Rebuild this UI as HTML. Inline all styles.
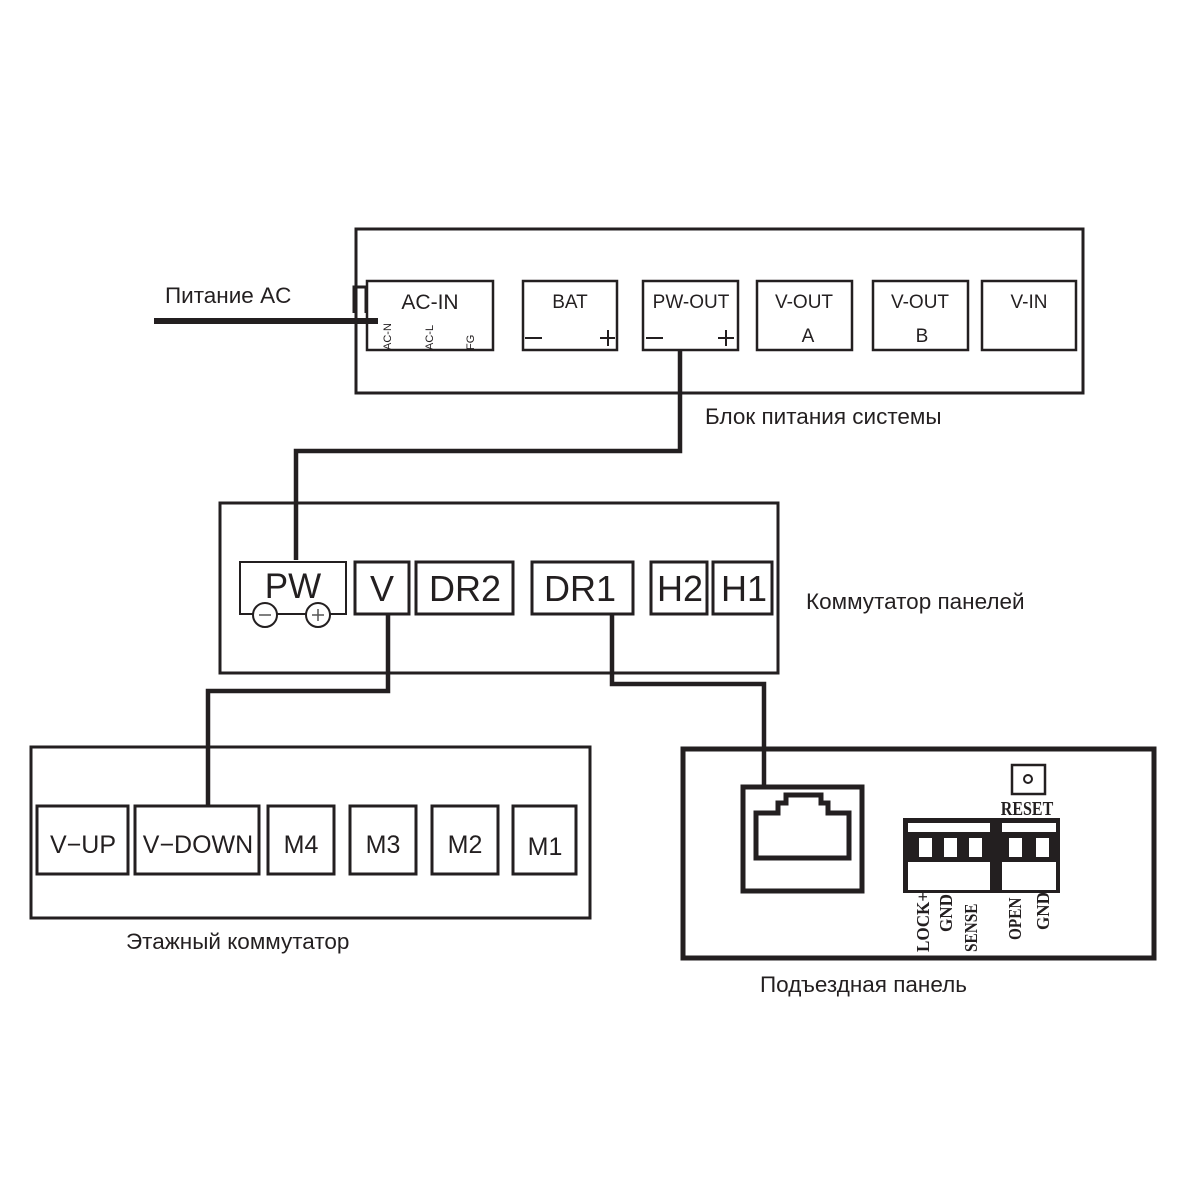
<!DOCTYPE html>
<html><head><meta charset="utf-8"><style>
html,body{margin:0;padding:0;background:#fff}
svg{display:block}
text{font-family:"Liberation Sans",sans-serif;fill:#231f20}
.s{font-family:"Liberation Serif",serif;font-weight:bold}
</style></head><body>
<svg width="1200" height="1200" viewBox="0 0 1200 1200" xmlns="http://www.w3.org/2000/svg">
<g fill="none" stroke="#231f20">
<rect x="356" y="229" width="727" height="164" stroke-width="3"/>
<rect x="367" y="281" width="126" height="69" stroke-width="2.5"/>
<rect x="523" y="281" width="94" height="69" stroke-width="2.5"/>
<rect x="643" y="281" width="95" height="69" stroke-width="2.5"/>
<rect x="757" y="281" width="95" height="69" stroke-width="2.5"/>
<rect x="873" y="281" width="95" height="69" stroke-width="2.5"/>
<rect x="982" y="281" width="94" height="69" stroke-width="2.5"/>
<path d="M525 338h17M600 338h15M608 330v16M646 338h17M718 338h16M726 330v16" stroke-width="2"/>
<path d="M154 321H378" stroke-width="6"/>
<path d="M366 313V287h-12v26" stroke-width="3"/>
<path d="M680 350V451H296V560" stroke-width="4.5"/>
<rect x="220" y="503" width="558" height="170" stroke-width="3"/>
<rect x="240" y="562" width="106" height="52" stroke-width="2"/>
<rect x="355" y="562" width="54" height="52" stroke-width="3"/>
<rect x="416" y="562" width="97" height="52" stroke-width="3"/>
<rect x="532" y="562" width="101" height="52" stroke-width="3"/>
<rect x="651" y="562" width="56" height="52" stroke-width="3"/>
<rect x="713" y="562" width="59" height="52" stroke-width="3"/>
<circle cx="265" cy="615" r="12" fill="#fff" stroke-width="2"/>
<circle cx="318" cy="615" r="12" fill="#fff" stroke-width="2"/>
<path d="M259 615h12M312 615h12M318 609v12" stroke-width="1.5" stroke="#555"/>
<path d="M388 614V691H208V805" stroke-width="4.5"/>
<path d="M612 614V684H764V786" stroke-width="4.5"/>
<rect x="31" y="747" width="559" height="171" stroke-width="3"/>
<rect x="37" y="806" width="91" height="68" stroke-width="3"/>
<rect x="135" y="806" width="124" height="68" stroke-width="3"/>
<rect x="268" y="806" width="66" height="68" stroke-width="3"/>
<rect x="350" y="806" width="66" height="68" stroke-width="3"/>
<rect x="432" y="806" width="66" height="68" stroke-width="3"/>
<rect x="513" y="806" width="63" height="68" stroke-width="3"/>
<rect x="683" y="749" width="471" height="209" stroke-width="5"/>
<rect x="743" y="787" width="119" height="104" stroke-width="5"/>
<path d="M756 858V813H778V803H786V795H821V803H828V813H849V858Z" stroke-width="5"/>
<rect x="1012" y="765" width="33" height="29" stroke-width="2.5"/>
<circle cx="1028" cy="779" r="4" stroke-width="2"/>
</g>
<g fill="#231f20">
<rect x="903" y="818" width="157" height="75"/>
<rect x="908" y="823" width="82" height="9" fill="#fff"/>
<rect x="1002" y="823" width="54" height="9" fill="#fff"/>
<rect x="908" y="862" width="82" height="28" fill="#fff"/>
<rect x="1002" y="862" width="54" height="28" fill="#fff"/>
<rect x="919" y="838" width="13" height="19" fill="#fff"/>
<rect x="944" y="838" width="13" height="19" fill="#fff"/>
<rect x="969" y="838" width="13" height="19" fill="#fff"/>
<rect x="1009" y="838" width="13" height="19" fill="#fff"/>
<rect x="1036" y="838" width="13" height="19" fill="#fff"/>
</g>
<text x="165" y="303" font-size="22.5">Питание AC</text>
<text x="430" y="309" font-size="21" text-anchor="middle">AC-IN</text>
<text font-size="11" transform="translate(391,350) rotate(-90)">AC-N</text>
<text font-size="11" transform="translate(433,350) rotate(-90)">AC-L</text>
<text font-size="11" transform="translate(474,350) rotate(-90)">FG</text>
<text x="570" y="308" font-size="19" text-anchor="middle">BAT</text>
<text x="691" y="308" font-size="19" text-anchor="middle">PW-OUT</text>
<text x="804" y="308" font-size="19" text-anchor="middle">V-OUT</text>
<text x="808" y="342" font-size="19" text-anchor="middle">A</text>
<text x="920" y="308" font-size="19" text-anchor="middle">V-OUT</text>
<text x="922" y="342" font-size="19" text-anchor="middle">B</text>
<text x="1029" y="308" font-size="19" text-anchor="middle">V-IN</text>
<text x="705" y="424" font-size="22.5">Блок питания системы</text>
<text x="293" y="598" font-size="35" text-anchor="middle">PW</text>
<text x="382" y="601" font-size="36" text-anchor="middle">V</text>
<text x="465" y="601" font-size="36" text-anchor="middle">DR2</text>
<text x="580" y="601" font-size="36" text-anchor="middle">DR1</text>
<text x="680" y="601" font-size="36" text-anchor="middle">H2</text>
<text x="744" y="601" font-size="36" text-anchor="middle">H1</text>
<text x="806" y="609" font-size="22.5">Коммутатор панелей</text>
<text x="83" y="853" font-size="25" text-anchor="middle">V−UP</text>
<text x="198" y="853" font-size="25" text-anchor="middle">V−DOWN</text>
<text x="301" y="853" font-size="25" text-anchor="middle">M4</text>
<text x="383" y="853" font-size="25" text-anchor="middle">M3</text>
<text x="465" y="853" font-size="25" text-anchor="middle">M2</text>
<text x="545" y="855" font-size="25" text-anchor="middle">M1</text>
<text x="126" y="949" font-size="22.5">Этажный коммутатор</text>
<text font-size="20" class="s" text-anchor="middle" transform="translate(1027,815) scale(0.8,1)">RESET</text>
<text font-size="18" class="s" transform="translate(929,952) rotate(-90) scale(0.95,1)">LOCK+</text>
<text font-size="18" class="s" transform="translate(952,932) rotate(-90) scale(0.95,1)">GND</text>
<text font-size="18" class="s" transform="translate(977,952) rotate(-90) scale(0.85,1)">SENSE</text>
<text font-size="18" class="s" transform="translate(1021,940) rotate(-90) scale(0.85,1)">OPEN</text>
<text font-size="18" class="s" transform="translate(1049,930) rotate(-90) scale(0.95,1)">GND</text>
<text x="760" y="992" font-size="22.5">Подъездная панель</text>
</svg>
</body></html>
